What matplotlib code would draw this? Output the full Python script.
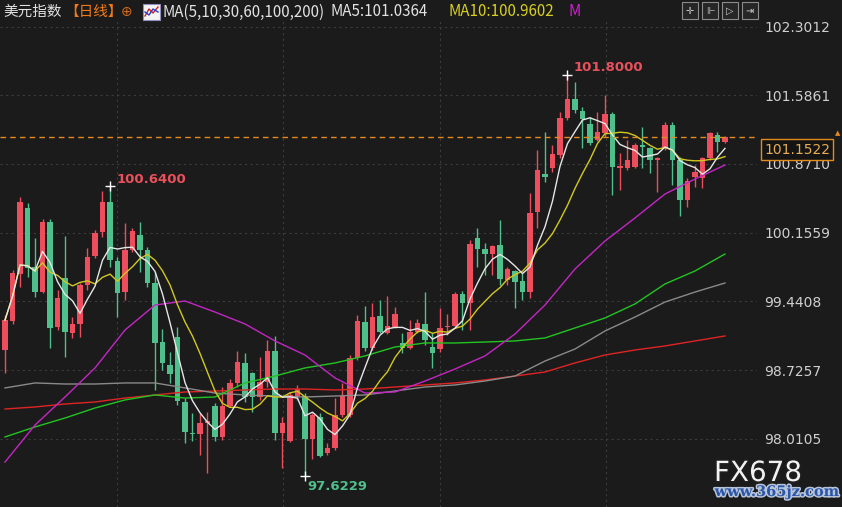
import matplotlib
matplotlib.use("Agg")
import matplotlib.pyplot as plt
import matplotlib.patches as mpatches
import matplotlib.patheffects as pe
import numpy as np
import pandas as pd

# daily candles of the US dollar index
opens = [98.935, 99.237, 99.726, 100.413, 99.799, 99.538, 100.267, 99.174, 99.684, 99.112,
         99.206, 99.611, 99.913, 100.163, 100.475, 99.861, 99.538, 99.976, 100.132, 99.976,
         99.632, 99.018, 98.779, 99.070, 98.394, 98.071, 98.061, 98.175, 98.352, 98.030,
         98.352, 98.592, 98.800, 98.696, 98.446, 98.602, 98.925, 98.071, 97.988, 98.456,
         98.456, 98.009, 98.238, 97.863, 97.915, 98.259, 98.259, 98.852, 99.226, 98.956,
         99.289, 99.112, 99.174, 99.008, 98.956, 99.122, 99.206, 98.966, 98.945, 99.174,
         99.185, 99.518, 99.424, 100.100, 99.986, 99.934, 100.028, 99.663, 99.757, 99.653,
         99.538, 100.371, 100.766, 100.829, 100.964, 101.349, 101.547, 101.422, 101.287, 101.120,
         101.193, 101.391, 100.829, 100.829, 100.839, 101.068, 101.037, 100.912, 101.037, 101.276,
         100.912, 100.496, 100.735, 100.725, 100.933, 101.172, 101.099]
highs = [99.299, 99.767, 100.527, 100.465, 100.100, 100.298, 100.298, 99.559, 100.121, 99.278,
         99.632, 99.996, 100.184, 100.590, 100.640, 99.903, 100.257, 100.204, 100.267, 100.007,
         99.747, 99.153, 98.914, 99.174, 98.435, 98.279, 98.279, 98.290, 98.383, 98.550,
         98.633, 98.925, 98.904, 98.706, 98.862, 99.039, 99.081, 98.238, 98.498, 98.571,
         98.487, 98.279, 98.279, 97.967, 98.435, 98.592, 98.883, 99.299, 99.393, 99.424,
         99.455, 99.497, 99.382, 99.112, 99.247, 99.258, 99.538, 99.112, 99.372, 99.310,
         99.538, 99.549, 100.080, 100.204, 100.048, 100.028, 100.288, 99.799, 99.767, 99.736,
         100.569, 101.016, 101.203, 101.068, 101.412, 101.800, 101.724, 101.464, 101.360, 101.412,
         101.588, 101.412, 100.985, 101.120, 101.089, 101.255, 101.047, 100.943, 101.307, 101.307,
         100.943, 100.725, 100.860, 100.943, 101.203, 101.203, 101.162]
lows = [98.696, 99.206, 99.591, 99.695, 99.486, 99.528, 98.956, 99.143, 98.862, 99.060,
        99.070, 99.559, 99.892, 100.111, 99.799, 99.278, 99.455, 99.955, 99.747, 99.591,
        98.519, 98.727, 98.592, 98.363, 97.967, 97.988, 97.842, 97.650, 97.988, 97.998,
        98.342, 98.550, 98.394, 98.290, 98.415, 98.550, 97.998, 97.707, 97.978, 98.415,
        97.6229, 97.801, 97.822, 97.842, 97.894, 98.238, 98.238, 98.831, 98.925, 98.935,
        99.112, 99.101, 99.164, 98.904, 98.945, 99.112, 98.987, 98.748, 98.914, 99.091,
        99.174, 99.143, 99.143, 99.799, 99.715, 99.715, 99.611, 99.611, 99.372, 99.455,
        99.476, 100.204, 100.683, 100.787, 100.933, 101.328, 101.401, 101.037, 101.068, 101.110,
        101.151, 100.548, 100.600, 100.808, 100.829, 100.829, 100.777, 100.579, 101.016, 100.652,
        100.329, 100.423, 100.631, 100.621, 100.912, 100.995, 101.089]
closes = [99.247, 99.736, 100.475, 99.788, 99.538, 100.267, 99.164, 99.476, 99.122, 99.206,
          99.611, 99.903, 100.152, 100.475, 99.871, 99.528, 99.976, 100.173, 99.976, 99.632,
          99.008, 98.800, 98.685, 98.404, 98.082, 98.061, 98.175, 98.196, 98.030, 98.352,
          98.592, 98.810, 98.446, 98.446, 98.602, 98.925, 98.071, 98.175, 98.467, 98.529,
          98.009, 98.259, 97.832, 97.915, 98.259, 98.456, 98.852, 99.237, 98.956, 99.278,
          99.122, 99.185, 99.310, 98.956, 99.122, 99.216, 99.039, 98.904, 99.164, 99.185,
          99.518, 99.424, 100.038, 99.986, 99.934, 100.017, 99.674, 99.778, 99.643, 99.538,
          100.361, 100.808, 100.735, 100.975, 101.349, 101.547, 101.432, 101.339, 101.089, 101.203,
          101.391, 100.839, 100.850, 100.912, 101.068, 101.047, 100.912, 100.933, 101.276, 100.912,
          100.496, 100.694, 100.787, 100.933, 101.193, 101.099, 101.1522]

# long moving averages, sampled every 4th candle
ma_idx = list(range(0, 97, 4))
ma30 = [97.769, 98.154, 98.446, 98.748, 99.143, 99.403, 99.445, 99.330, 99.206, 99.029,
        98.883, 98.644, 98.487, 98.498, 98.612, 98.737, 98.873, 99.101, 99.403, 99.778,
        100.069, 100.309, 100.558, 100.714, 100.860]
ma60 = [98.030, 98.134, 98.227, 98.331, 98.415, 98.467, 98.435, 98.446, 98.592, 98.664,
        98.748, 98.800, 98.873, 98.966, 99.008, 99.008, 99.018, 99.029, 99.060, 99.164,
        99.268, 99.414, 99.622, 99.757, 99.934]
ma100 = [98.540, 98.592, 98.581, 98.581, 98.592, 98.592, 98.540, 98.487, 98.467, 98.456,
         98.446, 98.456, 98.467, 98.508, 98.550, 98.571, 98.612, 98.664, 98.820, 98.945,
         99.133, 99.278, 99.434, 99.538, 99.632]
ma200 = [98.321, 98.342, 98.373, 98.394, 98.435, 98.467, 98.498, 98.508, 98.519, 98.529,
         98.529, 98.519, 98.529, 98.550, 98.571, 98.592, 98.623, 98.664, 98.706, 98.800,
         98.883, 98.935, 98.977, 99.029, 99.081]

price_ticks = [102.3012, 101.5861, 100.8710, 100.1559, 99.4408, 98.7257, 98.0105]
last_price = 101.1522
month_lines = [14.9, 37.1, 58.0, 80.1]

BG = '#1b1b1b'
UP = '#ee4d5d'
DOWN = '#4fbf8b'
W, H = 842, 507

fig = plt.figure(figsize=(W / 100, H / 100), dpi=100, facecolor=BG)
ax = fig.add_axes([0, 0, 757 / W, 489 / H], facecolor=BG)
ax.set_xlim(-0.667, 100.27)
ax.set_ylim(97.301, 102.390)
for s in ax.spines.values():
    s.set_visible(False)

# grid
for t in price_ticks:
    ax.axhline(t, color='#3c3c3c', lw=0.8, ls=(0, (2, 3)), zorder=0)
for m in month_lines:
    ax.axvline(m, color='#3c3c3c', lw=0.8, ls=(0, (2, 3)), zorder=0)

ax.set_xticks([])
ax.yaxis.tick_right()
ax.set_yticks(price_ticks)
ax.set_yticklabels(['%.4f' % t for t in price_ticks])
ax.tick_params(axis='y', length=0, pad=5, labelsize=10, labelcolor='#cfcfcf')

# candles
x = np.arange(len(closes))
o = np.array(opens)
c = np.array(closes)
hi = np.array(highs)
lo = np.array(lows)
cols = [UP if cc >= oo else DOWN for oo, cc in zip(o, c)]
ax.vlines(x, lo, hi, colors=cols, lw=1, zorder=2)
body = np.maximum(np.abs(c - o), 0.012)
ax.bar(x, body, bottom=np.minimum(o, c), width=0.72, color=cols, zorder=3)

# moving averages
ma5 = pd.Series(closes).rolling(5, min_periods=1).mean()
ma10 = pd.Series(closes).rolling(10, min_periods=1).mean()
ax.plot(ma_idx, ma200, color='#e02424', lw=1, zorder=4)
ax.plot(ma_idx, ma100, color='#8a8a8a', lw=1, zorder=4)
ax.plot(ma_idx, ma60, color='#22c422', lw=1, zorder=4)
ax.plot(ma_idx, ma30, color='#c426c4', lw=1, zorder=4)
ax.plot(x, ma10, color='#d2c81e', lw=1, zorder=5)
ax.plot(x, ma5, color='#e6e6e6', lw=1, zorder=6)

# extreme markers
i_hi = int(np.argmax(hi[60:])) + 60
i_hi2 = int(np.argmax(hi[:30]))
i_lo = int(np.argmin(lo))
for i, v in [(i_hi, hi[i_hi]), (i_hi2, hi[i_hi2]), (i_lo, lo[i_lo])]:
    ax.plot(i, v, marker='+', color='white', ms=7, mew=1, zorder=7)
ax.annotate('%.4f' % hi[i_hi], (i_hi, hi[i_hi]), xytext=(6, 7), textcoords='offset pixels',
            color='#e8505c', fontsize=9.5, fontweight='bold', va='center')
ax.annotate('%.4f' % hi[i_hi2], (i_hi2, hi[i_hi2]), xytext=(7, 7), textcoords='offset pixels',
            color='#e8505c', fontsize=9.5, fontweight='bold', va='center')
ax.annotate('%.4f' % lo[i_lo], (i_lo, lo[i_lo]), xytext=(2, -10), textcoords='offset pixels',
            color='#4fbf8b', fontsize=9.5, fontweight='bold', va='center')

# last price line and box
ax.axhline(last_price, color='#e38b1e', lw=1, ls=(0, (4, 3)), zorder=8)
fig.text(797 / W, 1 - 149.5 / H, '%.4f' % last_price, ha='center', va='center', fontsize=10,
         color='#e6ad55', zorder=10,
         bbox=dict(boxstyle='square,pad=0.22', facecolor='#141414', edgecolor='#e38b1e', lw=1))
fig.text(838 / W, 1 - 133 / H, '▲', ha='center', va='center', fontsize=5, color='#e38b1e')

# header
cjk = ['Noto Sans CJK SC', 'DejaVu Sans']
hy = 1 - 12 / H
fig.text(3 / W, hy, '美元指数', family=cjk, fontsize=10.5, color='#e2e2e2', va='center')
fig.text(64 / W, hy, '【日线】', family=cjk, fontsize=10.5, color='#f07a1a', va='center')
fig.text(121 / W, hy, '⊕', family=['DejaVu Sans'], fontsize=10, color='#d06a1a', va='center')
fig.patches.append(mpatches.Rectangle((143 / W, 1 - 20 / H), 17 / W, 16 / H, transform=fig.transFigure,
                                      facecolor='#f4f4f4', edgecolor='#9090c0', lw=0.8))
fig.lines.append(plt.Line2D(np.array([145, 149, 153, 158]) / W, 1 - np.array([16, 9, 13, 7]) / H,
                            transform=fig.transFigure, color='#d02020', lw=1))
fig.lines.append(plt.Line2D(np.array([145, 149, 153, 158]) / W, 1 - np.array([12, 15, 9, 12]) / H,
                            transform=fig.transFigure, color='#2040d0', lw=1))
fig.text(163 / W, hy, 'MA(5,10,30,60,100,200)', family=cjk, fontsize=10.9, color='#e2e2e2', va='center')
fig.text(330 / W, hy, 'MA5:%.4f' % 101.0364, family=cjk, fontsize=10.9, color='#e2e2e2', va='center')
fig.text(449 / W, hy, 'MA10:%.4f' % 100.9602, family=cjk, fontsize=10.9, color='#d8d020', va='center')
fig.text(568 / W, hy, 'M', family=cjk, fontsize=10.9, color='#d020d0', va='center')

# toolbar buttons
for bx in [682, 702, 722, 742]:
    fig.patches.append(mpatches.Rectangle((bx / W, 1 - 19 / H), 16 / W, 17 / H, transform=fig.transFigure,
                                          facecolor='#262626', edgecolor='#8c8c8c', lw=0.8))
for txt, bx in [('✛', 690), ('⊩', 710), ('▷', 730), ('⇥', 750)]:
    fig.text(bx / W, 1 - 10.5 / H, txt, ha='center', va='center', fontsize=7, color='#d0d0d0',
             family=['DejaVu Sans'])

# watermark
fig.text(714 / W, 1 - 481 / H, 'FX678', fontsize=20, color='#f2f2f2', va='baseline',
         path_effects=[pe.withStroke(linewidth=2, foreground='#202020')])
fig.text(777 / W, 1 - 492 / H, 'www.365jz.com', fontsize=10.5, color='#2a55a8', ha='center', va='center',
         family=['DejaVu Serif'], fontweight='bold',
         path_effects=[pe.withStroke(linewidth=2.2, foreground='#b8c4d8')])

fig.savefig('out.png', dpi=100, facecolor=BG)
